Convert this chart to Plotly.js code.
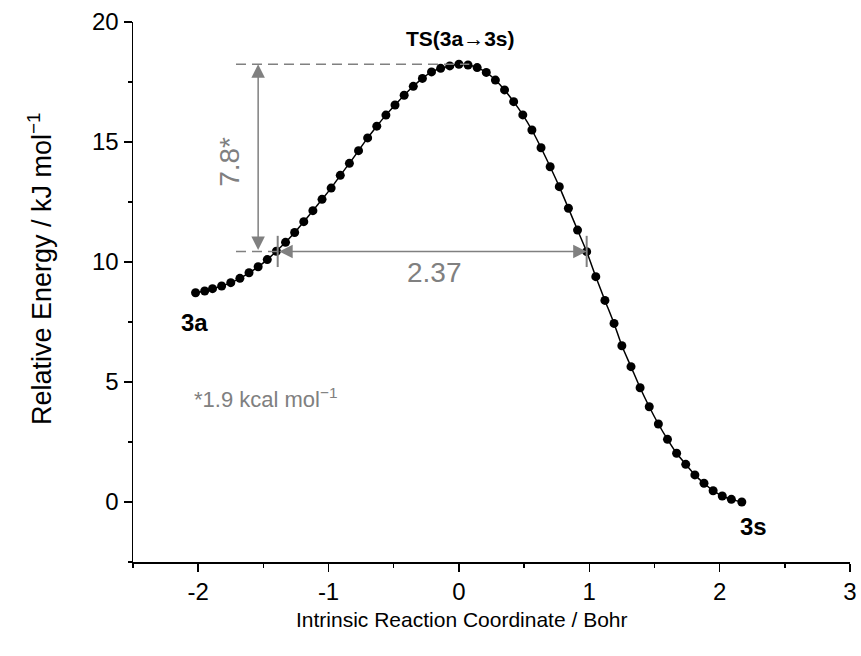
<!DOCTYPE html>
<html>
<head>
<meta charset="utf-8">
<script src="https://cdn.plot.ly/plotly-3.0.1.min.js"></script>
<style>html,body{margin:0;padding:0;background:#fff;}#chart{width:861px;height:656px;}</style>
</head>
<body>
<div id="chart"></div>
<script>
// Intrinsic reaction coordinate (Bohr) and relative energy (kJ/mol)
const irc = [-2.02, -1.95, -1.89, -1.82, -1.75, -1.68, -1.61, -1.54, -1.47, -1.40,
             -1.33, -1.26, -1.19, -1.12, -1.05, -0.98, -0.91, -0.84, -0.77, -0.70,
             -0.63, -0.56, -0.49, -0.42, -0.35, -0.28, -0.21, -0.14, -0.07, 0.00,
              0.07,  0.14,  0.21,  0.28,  0.35,  0.42,  0.49,  0.56,  0.63,  0.70,
              0.77,  0.84,  0.91,  0.98,  1.05,  1.12,  1.19,  1.25,  1.32,  1.39,
              1.46,  1.53,  1.60,  1.67,  1.74,  1.81,  1.88,  1.95,  2.02,  2.09,
              2.17];
const energy = [8.72, 8.79, 8.89, 9.00, 9.14, 9.32, 9.55, 9.80, 10.10, 10.45,
                10.82, 11.23, 11.68, 12.14, 12.61, 13.08, 13.61, 14.11, 14.64, 15.17,
                15.66, 16.12, 16.54, 16.95, 17.32, 17.65, 17.92, 18.07, 18.17, 18.24,
                18.21, 18.10, 17.90, 17.58, 17.17, 16.68, 16.13, 15.50, 14.76, 13.97,
                13.14, 12.24, 11.33, 10.43, 9.39, 8.40, 7.44, 6.51, 5.64, 4.76,
                3.97, 3.25, 2.61, 2.03, 1.57, 1.13, 0.78, 0.47, 0.25, 0.11,
                0.00];
const xTickVals = [-2, -1, 0, 1, 2, 3];
const yTickVals = [0, 5, 10, 15, 20];

// annotation values
const barrierKJ = 7.8;        // vertical arrow label
const barrierKcal = 1.9;
const widthBohr = 2.37;       // horizontal arrow label
const leftCross = -1.39;      // start of the width arrow

const peakE = Math.max(...energy);
const lowE = peakE - barrierKJ;
const rightCross = leftCross + widthBohr;

const gray = '#808080';
const font = 'Liberation Sans, Arial, sans-serif';

const trace = {
  x: irc, y: energy, type: 'scatter', mode: 'lines+markers',
  line: {color: '#000', width: 1.5, shape: 'spline', smoothing: 0.6},
  marker: {color: '#000', size: 9},
  hoverinfo: 'x+y', showlegend: false
};

const shapes = [
  {type: 'line', xref: 'x', yref: 'y', x0: -1.71, x1: 0.08, y0: peakE, y1: peakE,
   line: {color: gray, width: 1.5, dash: '10px,6px'}},
  {type: 'line', xref: 'x', yref: 'y', x0: -1.71, x1: leftCross, y0: lowE, y1: lowE,
   line: {color: gray, width: 1.5, dash: '10px,6px'}},
  {type: 'line', xref: 'x', yref: 'y', x0: leftCross, x1: leftCross, y0: lowE - 0.65, y1: lowE + 0.65,
   line: {color: gray, width: 2}},
  {type: 'line', xref: 'x', yref: 'y', x0: rightCross, x1: rightCross, y0: lowE - 0.65, y1: lowE + 0.65,
   line: {color: gray, width: 2}}
];

const annotations = [
  // vertical double arrow (barrier)
  {x: -1.54, y: peakE, ax: -1.54, ay: lowE, xref: 'x', yref: 'y', axref: 'x', ayref: 'y',
   text: '', showarrow: true, arrowhead: 2, startarrowhead: 2, arrowside: 'end+start',
   arrowsize: 1.8, startarrowsize: 1.8, arrowwidth: 1.5, arrowcolor: gray, standoff: 0, startstandoff: 0},
  // horizontal double arrow (width)
  {x: rightCross, y: lowE, ax: leftCross, ay: lowE, xref: 'x', yref: 'y', axref: 'x', ayref: 'y',
   text: '', showarrow: true, arrowhead: 2, startarrowhead: 2, arrowside: 'end+start',
   arrowsize: 1.8, startarrowsize: 1.8, arrowwidth: 1.5, arrowcolor: gray, standoff: 0, startstandoff: 0},
  {x: -1.755, y: 14.18, xref: 'x', yref: 'y', text: barrierKJ.toFixed(1) + '*', textangle: -90,
   showarrow: false, font: {family: font, size: 28, color: gray}},
  {x: (leftCross + rightCross) / 2 + 0.02, y: 9.58, xref: 'x', yref: 'y', text: widthBohr.toFixed(2),
   showarrow: false, font: {family: font, size: 28, color: gray}},
  {x: -2.05, y: 4.33, xref: 'x', yref: 'y', xanchor: 'left', text: '*' + barrierKcal.toFixed(1) + ' kcal mol<sup>−1</sup>',
   showarrow: false, font: {family: font, size: 22, color: gray}},
  {x: 0.01, y: 19.3, xref: 'x', yref: 'y', text: '<b>TS(3a→3s)</b>',
   showarrow: false, font: {family: font, size: 21, color: '#000'}},
  {x: -2.03, y: 7.5, xref: 'x', yref: 'y', text: '<b>3a</b>',
   showarrow: false, font: {family: font, size: 24, color: '#000'}},
  {x: 2.26, y: -1.0, xref: 'x', yref: 'y', text: '<b>3s</b>',
   showarrow: false, font: {family: font, size: 24, color: '#000'}},
  // axis titles
  {x: 0.459, y: -0.107, xref: 'paper', yref: 'paper', xanchor: 'center', yanchor: 'middle',
   text: 'Intrinsic Reaction Coordinate / Bohr', showarrow: false,
   font: {family: font, size: 21, color: '#000'}},
  {x: -0.130, y: 0.544, xref: 'paper', yref: 'paper', xanchor: 'center', yanchor: 'middle',
   text: 'Relative Energy / kJ mol<sup>−1</sup>', textangle: -90, showarrow: false,
   font: {family: font, size: 27, color: '#000'}}
];

const layout = {
  width: 861, height: 656,
  margin: {l: 133, r: 11, t: 22, b: 94},
  paper_bgcolor: '#fff', plot_bgcolor: '#fff',
  font: {family: font, size: 21, color: '#000'},
  xaxis: {
    range: [-2.5, 3], tickvals: xTickVals, ticktext: xTickVals.map(String),
    ticks: 'outside', ticklen: 8, tickwidth: 1.5, tickcolor: '#000',
    showline: true, linecolor: '#000', linewidth: 1.5, showgrid: false, zeroline: false,
    minor: {dtick: 0.5, tick0: 0, ticks: 'outside', ticklen: 4, tickwidth: 1.5, tickcolor: '#000', showgrid: false},
    tickfont: {family: font, size: 24, color: '#000'}
  },
  yaxis: {
    range: [-2.5, 20], tickvals: yTickVals, ticktext: yTickVals.map(String),
    ticks: 'outside', ticklen: 8, tickwidth: 1.5, tickcolor: '#000',
    showline: true, linecolor: '#000', linewidth: 1.5, showgrid: false, zeroline: false,
    minor: {dtick: 2.5, tick0: 0, ticks: 'outside', ticklen: 4, tickwidth: 1.5, tickcolor: '#000', showgrid: false},
    tickfont: {family: font, size: 24, color: '#000'}
  },
  shapes: shapes,
  annotations: annotations
};

Plotly.newPlot('chart', [trace], layout, {staticPlot: true, displayModeBar: false});
</script>
</body>
</html>
